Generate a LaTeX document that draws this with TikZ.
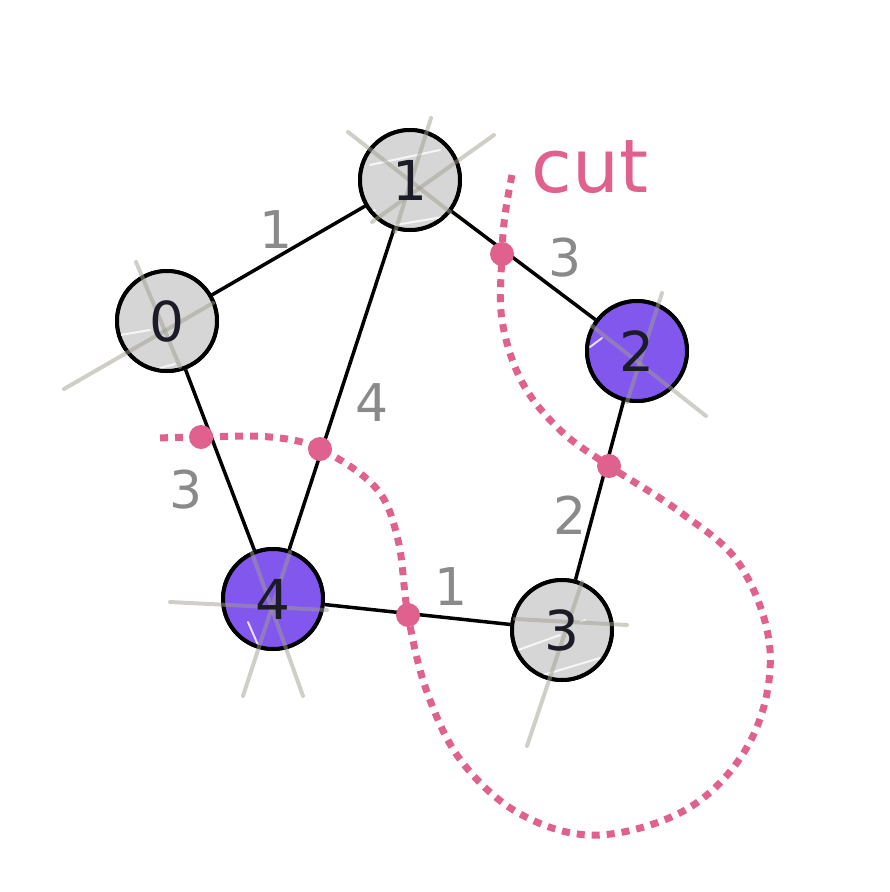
\documentclass[tikz,border=0pt]{standalone}
\usepackage{fontspec}
\setmainfont{DejaVu Sans}
\definecolor{nodegrey}{HTML}{D6D6D6}
\definecolor{nodepurple}{HTML}{8257EE}
\definecolor{txtdark}{HTML}{1C1C28}
\definecolor{lblgrey}{HTML}{8A8A8A}
\definecolor{cutpink}{HTML}{E0608E}
\definecolor{sketch}{HTML}{A09E90}
\tikzset{
  vertex/.style={circle, draw=black, line width=4pt, minimum size=100pt, inner sep=0pt},
  greyv/.style={vertex, fill=nodegrey},
  purplev/.style={vertex, fill=nodepurple},
  vtext/.style={font=\fontsize{55}{55}\selectfont, text=txtdark},
  edgeline/.style={line width=3.5pt, black},
  wlabel/.style={font=\fontsize{52}{52}\selectfont, text=lblgrey},
  sketchline/.style={line width=4pt, draw=sketch, opacity=0.5, line cap=round},
  hilite/.style={line width=2pt, draw=white, opacity=0.8, line cap=round},
  cutline/.style={draw=cutpink, line width=7pt, dash pattern=on 8pt off 7pt},
  cutdot/.style={circle, fill=cutpink, minimum size=24pt, inner sep=0pt},
}
\begin{document}
\begin{tikzpicture}[x=1pt,y=-1pt]
\useasboundingbox (0,0) rectangle (890,892);
% node positions (drawn first so edges can refer to them)
\node[greyv] (n0) at (167,321) {};
\node[greyv] (n1) at (410,180) {};
\node[purplev] (n2) at (637,351) {};
\node[greyv] (n3) at (562,630) {};
\node[purplev] (n4) at (273,599) {};
% edges
\draw[edgeline] (n0) -- (n1);
\draw[edgeline] (n1) -- (n2);
\draw[edgeline] (n1) -- (n4);
\draw[edgeline] (n0) -- (n4);
\draw[edgeline] (n2) -- (n3);
\draw[edgeline] (n4) -- (n3);
% redraw node discs on top of edges
\node[greyv] at (n0) {};
\node[greyv] at (n1) {};
\node[purplev] at (n2) {};
\node[greyv] at (n3) {};
\node[purplev] at (n4) {};
% highlights
\begin{scope}
\clip (n1.center) circle (48pt);
\draw[hilite] (370,165) -- (440,150);
\draw[hilite] (365,215) -- (375,210);
\draw[hilite] (395,225) -- (455,215);
\end{scope}
\begin{scope}
\clip (n0.center) circle (48pt);
\draw[hilite] (120,335) -- (150,330);
\draw[hilite] (160,368) -- (175,364);
\end{scope}
\begin{scope}
\clip (n2.center) circle (48pt);
\draw[hilite] (590,347) -- (602,338);
\end{scope}
\begin{scope}
\clip (n4.center) circle (48pt);
\draw[hilite] (248,622) -- (258,645);
\end{scope}
\begin{scope}
\clip (n3.center) circle (48pt);
\draw[hilite] (518,650) -- (560,635);
\draw[hilite] (540,676) -- (600,658);
\draw[hilite] (580,622) -- (585,620);
\end{scope}
% sketch strokes
\draw[sketchline] (348,132) -- (450,212);
\draw[sketchline] (494,135) -- (372,222);
\draw[sketchline] (431,118) -- (395,232);
\draw[sketchline] (64,389) -- (213,303);
\draw[sketchline] (136,262) -- (180,367);
\draw[sketchline] (662,293) -- (627,402);
\draw[sketchline] (592,326) -- (706,416);
\draw[sketchline] (170,602) -- (327,610);
\draw[sketchline] (243,696) -- (290,552);
\draw[sketchline] (303,696) -- (252,553);
\draw[sketchline] (527,746) -- (582,582);
\draw[sketchline] (515,619) -- (627,625);
% node text on top
\node[vtext] (t0) at (n0) {0};
\node[vtext] (t1) at (n1) {1};
\node[vtext] (t2) at (n2) {2};
\node[vtext] (t3) at (n3) {3};
\node[vtext] (t4) at (n4) {4};
% weights
\node[wlabel] (w01) at (276,230) {1};
\node[wlabel] (w12) at (565,258) {3};
\node[wlabel] (w14) at (372,403) {4};
\node[wlabel] (w04) at (186,490) {3};
\node[wlabel] (w23) at (570,515) {2};
\node[wlabel] (w43) at (451,587) {1};
% cut
\coordinate (d1) at (502,254);
\coordinate (d2) at (609,466);
\coordinate (d3) at (408,615);
\coordinate (d4) at (320,449);
\coordinate (d5) at (201,437);
\draw[cutline] plot[smooth, tension=0.6] coordinates {(512,175) (505,215) (d1) (502,320) (522,382) (560,430) (d2) (680,512) (740,565) (770,650) (752,738) (692,806) (600,835) (522,815) (462,762) (427,692) (d3) (398,540) (376,488) (d4) (270,437) (d5) (158,438)};
\node[cutdot] at (d1) {};
\node[cutdot] at (d2) {};
\node[cutdot] at (d3) {};
\node[cutdot] at (d4) {};
\node[cutdot] at (d5) {};
\node[font=\fontsize{74}{74}\selectfont, text=cutpink, anchor=base west] (cutlbl) at (528,192) {cut};
\end{tikzpicture}
\end{document}
